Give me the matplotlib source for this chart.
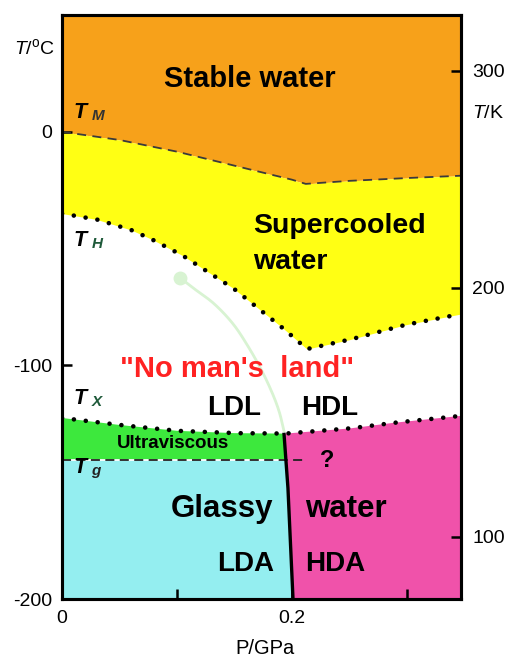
import numpy as np
import matplotlib
matplotlib.use("Agg")
import matplotlib.pyplot as plt

plt.rcParams['font.family'] = ['Liberation Sans', 'DejaVu Sans']
plt.rcParams['mathtext.fontset'] = 'custom'
plt.rcParams['mathtext.it'] = 'Liberation Sans:italic'
plt.rcParams['mathtext.rm'] = 'Liberation Sans'

# ---- data (P in GPa, T in degC) ----
tm_P = [0.0, 0.05, 0.10, 0.15, 0.20, 0.212, 0.25, 0.30, 0.347]
tm_T = [0.0, -3.5, -8.5, -14.5, -20.5, -22.3, -21.0, -19.8, -18.8]

th_P = [0.0, 0.03, 0.06, 0.078, 0.105, 0.149, 0.192, 0.213, 0.25, 0.298, 0.347]
th_T = [-35.0, -37.5, -42.0, -46.0, -53.0, -67.0, -84.0, -93.0, -89.0, -82.7, -78.0]

tx_P = [0.0, 0.05, 0.10, 0.15, 0.194, 0.25, 0.288, 0.347]
tx_T = [-122.5, -125.5, -128.0, -129.0, -129.2, -127.0, -124.6, -121.6]

tg_T = -140.5
tg_P_end = 0.213

# LDA/HDA boundary
bd_P = [0.193, 0.1965, 0.2009]
bd_T = [-128.8, -152.5, -200.0]

# green curve from the circle down to the LDL/HDL meeting point
wd_P = [0.1026, 0.1139, 0.1320, 0.1487, 0.1620, 0.1739, 0.1830, 0.1890, 0.193]
wd_T = [-62.5, -66.8, -73.5, -82.2, -92.0, -102.4, -112.0, -120.0, -128.0]

xlim = (0.0, 0.347)
ylim = (-200.0, 50.0)
left_ticks = [0, -100, -200]
right_tick_pos = [26.1, -66.8, -173.4]
right_tick_lab = ['300', '200', '100']
bottom_ticks = [0.0, 0.1, 0.2, 0.3]
bottom_labels = ['0', '', '0.2', '']

C_OR = '#f7a11a'
C_YE = '#ffff14'
C_GR = '#3de83d'
C_CY = '#94eef0'
C_PK = '#f052aa'


def smooth(xs, ys, n=20):
    # Catmull-Rom through the read points (display only)
    xs = np.asarray(xs, float); ys = np.asarray(ys, float)
    X = np.concatenate([[2*xs[0]-xs[1]], xs, [2*xs[-1]-xs[-2]]])
    Y = np.concatenate([[2*ys[0]-ys[1]], ys, [2*ys[-1]-ys[-2]]])
    ox, oy = [], []
    t = np.linspace(0, 1, n, endpoint=False)
    for i in range(1, len(X)-2):
        for A, out in ((X, ox), (Y, oy)):
            p0, p1, p2, p3 = A[i-1], A[i], A[i+1], A[i+2]
            out.extend(0.5*((2*p1) + (-p0+p2)*t + (2*p0-5*p1+4*p2-p3)*t**2
                            + (-p0+3*p1-3*p2+p3)*t**3))
    ox.append(xs[-1]); oy.append(ys[-1])
    return np.array(ox), np.array(oy)


fig = plt.figure(figsize=(5.09, 6.63), dpi=100)
ax = fig.add_axes([62/509, 1-599/663, (461-62)/509, (599-15)/663])
ax.set_xlim(*xlim)
ax.set_ylim(*ylim)

Pf = np.linspace(xlim[0], xlim[1], 400)
tm = np.interp(Pf, tm_P, tm_T)
th = np.interp(Pf, th_P, th_T)
tx = np.interp(Pf, tx_P, tx_T)

ax.fill_between(Pf, tm, ylim[1], color=C_OR, lw=0)
ax.fill_between(Pf, th, tm, color=C_YE, lw=0)

Tb = np.linspace(bd_T[0], bd_T[-1], 50)
Pb = np.interp(Tb, bd_T[::-1], bd_P[::-1])
p_top = bd_P[0]
p_tg = np.interp(tg_T, bd_T[::-1], bd_P[::-1])

Pl = np.linspace(0, p_top, 100)
mask = Tb >= tg_T
gx = list(Pl) + list(Pb[mask]) + [p_tg, 0.0]
gy = list(np.interp(Pl, tx_P, tx_T)) + list(Tb[mask]) + [tg_T, tg_T]
ax.fill(gx, gy, color=C_GR, lw=0)

cx = [0.0, p_tg] + list(Pb[~mask]) + [0.0]
cy = [tg_T, tg_T] + list(Tb[~mask]) + [ylim[0]]
ax.fill(cx, cy, color=C_CY, lw=0)

Pr = np.linspace(p_top, xlim[1], 100)
px = list(Pb) + [xlim[1]] + list(Pr[::-1])
py = list(Tb) + [ylim[0]] + list(np.interp(Pr[::-1], tx_P, tx_T))
ax.fill(px, py, color=C_PK, lw=0)

# lines
ax.plot(tm_P, tm_T, color='#3a3a3a', lw=1.3, ls=(0, (5, 3.5)))
ax.plot(Pf, th, color='black', lw=3.3, ls=(0, (0.01, 2.6)), dash_capstyle='round')
ax.plot(Pf, tx, color='black', lw=3.3, ls=(0, (0.01, 2.6)), dash_capstyle='round')
ax.plot([0, p_tg], [tg_T, tg_T], color='white', lw=1.3)
ax.plot([0, tg_P_end], [tg_T, tg_T], color='#222222', lw=1.3, ls=(0, (5, 3)))
ax.plot(bd_P, bd_T, color='black', lw=2.4, solid_capstyle='butt')
sx, sy = smooth(wd_P, wd_T)
ax.plot(sx, sy, color='#d8f3d2', lw=2.0, zorder=3)
ax.plot([wd_P[0]], [wd_T[0]], 'o', ms=10, color='#d8f3d2', mec='none', zorder=3)

# labels
ax.text(0.1635, 22.7, 'Stable water', fontsize=21, fontweight='bold', ha='center', va='center')
ax.text(0.166, -40.3, 'Supercooled', fontsize=20.5, fontweight='bold', ha='left', va='center')
ax.text(0.166, -55.7, 'water', fontsize=20.5, fontweight='bold', ha='left', va='center')
ax.text(0.152, -101.5, '"No man\'s  land"', fontsize=21, fontweight='bold', color='#ff2222',
        ha='center', va='center')
ax.text(0.150, -118.2, 'LDL', fontsize=20, fontweight='bold', ha='center', va='center')
ax.text(0.233, -118.2, 'HDL', fontsize=20, fontweight='bold', ha='center', va='center')
ax.text(0.0965, -133.6, 'Ultraviscous', fontsize=13.5, fontweight='bold', ha='center', va='center')
ax.text(0.2304, -140.9, '?', fontsize=17, fontweight='bold', ha='center', va='center')
ax.text(0.139, -161.5, 'Glassy', fontsize=22.5, fontweight='bold', ha='center', va='center')
ax.text(0.247, -161.5, 'water', fontsize=22.5, fontweight='bold', ha='center', va='center')
ax.text(0.160, -185.0, 'LDA', fontsize=20, fontweight='bold', ha='center', va='center')
ax.text(0.2374, -185.0, 'HDA', fontsize=20, fontweight='bold', ha='center', va='center')

for Tval, sub, col in [(8.1, 'M', '#333333'), (-46.7, 'H', '#1f5a3a'),
                       (-114.3, 'X', '#1f5a3a'), (-143.9, 'g', '#222222')]:
    ax.text(0.010, Tval, 'T', fontsize=15.5, fontweight='bold', style='italic',
            ha='left', va='center')
    ax.text(0.0255, Tval - 1.5, sub, fontsize=11, fontweight='bold', color=col,
            style='italic', ha='left', va='center')

for s in ax.spines.values():
    s.set_linewidth(2.2)
ax.set_yticks(left_ticks)
ax.set_yticklabels(['0', '-100', '-200'])
ax.set_xticks(bottom_ticks)
ax.set_xticklabels(bottom_labels)
ax.tick_params(direction='in', length=7, width=1.8, labelsize=14, pad=7)
ax.tick_params(axis='x', pad=8)

ax2 = ax.twinx()
ax2.set_ylim(*ylim)
ax2.set_yticks(right_tick_pos)
ax2.set_yticklabels(right_tick_lab)
ax2.tick_params(direction='in', length=7, width=1.8, labelsize=14, pad=8)
for s in ax2.spines.values():
    s.set_linewidth(2.2)

fig.text(55/509, 1-48/663, r'$T$/$^{\rm o}$C', fontsize=14, ha='right', va='center')
fig.text(472/509, 1-113/663, r'$T$/K', fontsize=14, ha='left', va='center')
fig.text(265/509, 1-648/663, 'P/GPa', fontsize=14.5, ha='center', va='center')

fig.savefig('out.png', dpi=100)
